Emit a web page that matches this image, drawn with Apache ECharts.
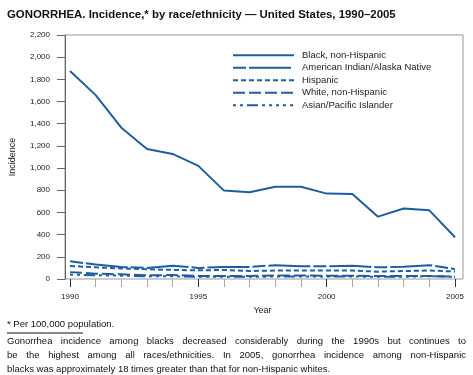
<!DOCTYPE html>
<html>
<head>
<meta charset="utf-8">
<script src="https://cdn.jsdelivr.net/npm/echarts@6/dist/echarts.min.js"></script>
<style>
  html, body { margin: 0; padding: 0; background: #fff; }
  #chart { width: 473px; height: 375px; }
</style>
</head>
<body>
<div id="chart"></div>
<script>
var years = ['1990', '1991', '1992', '1993', '1994', '1995', '1996', '1997',
  '1998', '1999', '2000', '2001', '2002', '2003', '2004', '2005'];
var black = [1875, 1658, 1364, 1172, 1128, 1020, 797, 783, 832, 832, 770, 766, 562, 636, 619, 376];
var amIndian = [160, 130, 108, 100, 120, 100, 108, 108, 125, 116, 115, 120, 105, 110, 125, 90];
var hispanic = [118, 105, 95, 88, 82, 78, 82, 72, 76, 76, 76, 76, 66, 72, 76, 68];
var white = [62, 48, 42, 33, 36, 28, 27, 27, 31, 31, 30, 30, 26, 27, 26, 21];
var asian = [40, 34, 30, 25, 25, 20, 20, 20, 22, 22, 22, 22, 20, 21, 25, 20];
var yTicks = [0, 2200, 200];
var noteLines = [
  'Gonorrhea incidence among blacks decreased considerably during the 1990s but continues to',
  'be the highest among all races/ethnicities. In 2005, gonorrhea incidence among non-Hispanic',
  'blacks was approximately 18 times greater than that for non-Hispanic whites.'
];

var blue = '#1b5ea7';
var chart = echarts.init(document.getElementById('chart'), null, { renderer: 'canvas' });

var textColor = '#222';
var fontFamily = '"Liberation Sans", Arial, sans-serif';
var noteSize = 9.5;

function lineSeries(name, data, dash) {
  return {
    name: name,
    type: 'line',
    xAxisIndex: 0,
    yAxisIndex: 1,
    data: data,
    symbol: 'none',
    lineStyle: { color: blue, width: 2, type: dash },
    itemStyle: { color: blue },
    animation: false
  };
}

// justified paragraph: words spread over the full width, last line left aligned
var ctx = document.createElement('canvas').getContext('2d');
ctx.font = noteSize + 'px ' + fontFamily;
function noteGraphics(lines, x, y0, width, lh) {
  var out = [];
  lines.forEach(function (line, li) {
    var y = y0 + li * lh;
    if (li === lines.length - 1) {
      out.push({ type: 'text', left: x, top: y, style: { text: line, fontSize: noteSize, fill: '#111', fontFamily: fontFamily } });
      return;
    }
    var words = line.split(' ');
    var total = 0;
    words.forEach(function (w) { total += ctx.measureText(w).width; });
    var gap = (width - total) / (words.length - 1);
    var cx = x;
    words.forEach(function (w) {
      out.push({ type: 'text', left: cx, top: y, style: { text: w, fontSize: noteSize, fill: '#111', fontFamily: fontFamily } });
      cx += ctx.measureText(w).width + gap;
    });
  });
  return out;
}

var option = {
  animation: false,
  textStyle: { fontFamily: fontFamily },
  title: {
    text: 'GONORRHEA. Incidence,* by race/ethnicity — United States, 1990–2005',
    left: 2,
    top: 4,
    textStyle: { fontSize: 11.4, fontWeight: 'bold', color: '#111', fontFamily: fontFamily }
  },
  legend: {
    orient: 'vertical',
    left: 227,
    top: 44,
    itemWidth: 61,
    itemHeight: 8,
    itemGap: 0,
    itemStyle: { opacity: 0 },
    textStyle: { fontSize: 9.5, lineHeight: 12.5, color: textColor, padding: [0, 0, 0, 3] },
    data: ['Black, non-Hispanic', 'American Indian/Alaska Native', 'Hispanic',
      'White, non-Hispanic', 'Asian/Pacific Islander']
  },
  grid: [
    { left: 64, right: 10, top: 35, bottom: 96, show: true, borderColor: '#999', borderWidth: 1 },
    { left: 70, right: 18, top: 35, bottom: 96 }
  ],
  xAxis: [
    {
      type: 'category',
      gridIndex: 1,
      data: years,
      boundaryGap: false,
      position: 'bottom',
      name: 'Year',
      nameLocation: 'middle',
      nameGap: 24,
      nameTextStyle: { fontSize: 9, color: textColor },
      axisLine: { show: false },
      axisTick: { show: true, length: 8, interval: 0, lineStyle: { color: '#aaa' } },
      axisLabel: {
        fontSize: 8, color: textColor, margin: 14,
        interval: function (i) { return i % 5 === 0; }
      },
      splitLine: { show: false }
    },
    {
      type: 'category',
      gridIndex: 1,
      data: years,
      boundaryGap: false,
      position: 'bottom',
      axisLine: { show: false },
      axisTick: { show: true, length: 8, interval: function (i) { return i % 5 === 0; }, lineStyle: { color: '#333' } },
      axisLabel: { show: false },
      splitLine: { show: false }
    },
    {
      type: 'value',
      gridIndex: 0,
      show: false
    }
  ],
  yAxis: [
    {
      type: 'value',
      gridIndex: 0,
      min: yTicks[0],
      max: yTicks[1],
      interval: yTicks[2],
      name: 'Incidence',
      nameLocation: 'middle',
      nameGap: 48,
      nameTextStyle: { fontSize: 9, color: textColor },
      axisLine: { show: true, lineStyle: { color: '#666' } },
      axisTick: { show: true, length: 8, lineStyle: { color: '#666' } },
      axisLabel: { fontSize: 8, color: textColor, margin: 15 },
      splitLine: { show: false }
    },
    {
      type: 'value',
      gridIndex: 1,
      min: yTicks[0],
      max: yTicks[1],
      interval: yTicks[2],
      show: false
    }
  ],
  series: [
    lineSeries('Black, non-Hispanic', black, 'solid'),
    lineSeries('American Indian/Alaska Native', amIndian, [13, 3, 42, 3]),
    lineSeries('Hispanic', hispanic, [5, 3]),
    lineSeries('White, non-Hispanic', white, [12, 4]),
    lineSeries('Asian/Pacific Islander', asian, [3, 4, 3, 4, 11, 4, 3, 4, 3, 4, 3, 4])
  ],
  graphic: [
    { type: 'text', left: 7, top: 319, style: { text: '* Per 100,000 population.', fontSize: noteSize, fill: '#111', fontFamily: fontFamily } },
    { type: 'line', shape: { x1: 7, y1: 333, x2: 83, y2: 333 }, style: { stroke: '#111', lineWidth: 1 } }
  ].concat(noteGraphics(noteLines, 7, 336, 459, 14))
};

chart.setOption(option);
</script>
</body>
</html>
